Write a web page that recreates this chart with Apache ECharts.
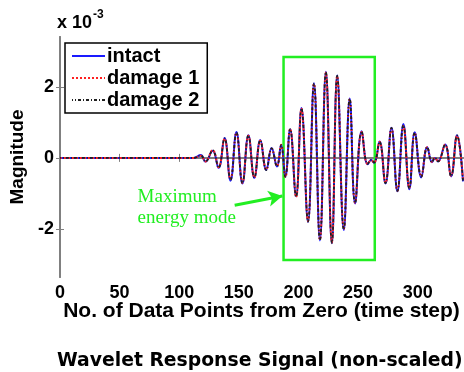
<!DOCTYPE html>
<html>
<head>
<meta charset="utf-8">
<script src="https://cdn.jsdelivr.net/npm/echarts@6/dist/echarts.min.js"></script>
<style>
    html, body { margin: 0; padding: 0; background: #fff; }
    #chart { width: 464px; height: 372px; }
</style>
</head>
<body>
<div id="chart"></div>
<script>
// time steps (x) and magnitudes (x 10^-3)
const timeSteps = [0, 112, 118, 122, 128, 133, 138, 143, 148, 153,
    158, 163, 168, 173, 177.5, 182, 185.5, 189, 193, 198,
    202.5, 208, 213, 218, 223, 228, 232.5, 238, 243, 247.5,
    253, 258, 261, 263.5, 268, 273, 278, 283, 288, 293,
    297.5, 303, 308, 312, 314.5, 317, 323, 328, 333, 338];
const intact = [0, 0, 0.08, -0.1, 0.2, -0.28, 0.56, -0.64, 0.73, -0.72,
    0.64, -0.56, 0.5, -0.34, 0.28, -0.24, 0.36, -0.52, 0.8, -1.08,
    1.4, -1.8, 2.1, -2.32, 2.42, -2.4, 2.32, -2.03, 1.67, -1.28,
    0.75, -0.18, -0.06, -0.14, 0.46, -0.72, 0.85, -0.94, 0.95, -0.88,
    0.72, -0.55, 0.3, -0.12, 0.0, -0.1, 0.38, -0.52, 0.64, -0.66];
const damage1 = [0, 0, 0.06, -0.1, 0.22, -0.26, 0.54, -0.6, 0.7, -0.7,
    0.62, -0.55, 0.48, -0.33, 0.26, -0.23, 0.37, -0.54, 0.82, -1.1,
    1.38, -1.78, 2.08, -2.3, 2.4, -2.38, 2.3, -2.0, 1.65, -1.26,
    0.73, -0.17, -0.07, -0.13, 0.45, -0.7, 0.83, -0.92, 0.9, -0.84,
    0.7, -0.52, 0.3, -0.11, 0.0, -0.1, 0.37, -0.5, 0.62, -0.64];
const damage2 = [0, 0, 0.07, -0.1, 0.21, -0.27, 0.55, -0.62, 0.71, -0.71,
    0.63, -0.55, 0.49, -0.34, 0.27, -0.24, 0.36, -0.53, 0.81, -1.09,
    1.39, -1.79, 2.09, -2.31, 2.41, -2.39, 2.31, -2.01, 1.66, -1.27,
    0.74, -0.17, -0.06, -0.13, 0.45, -0.71, 0.84, -0.93, 0.92, -0.86,
    0.71, -0.53, 0.3, -0.12, 0.0, -0.1, 0.37, -0.51, 0.63, -0.65];

const xTicks = [0, 50, 100, 150, 200, 250, 300];
const yTicks = [-2, 0, 2];

// green annotation: box corners, arrow ends, label
const modeBox = [[187.5, 2.84], [264, -2.87]];
const modeArrow = [[146.5, -1.33], [186.5, -1.07]];
const modeLabel = [107, -1.4];

const pairs = vals => timeSteps.map((t, i) => [t, vals[i]]);

const font = "Liberation Sans, Arial, sans-serif";
const axisGray = "#808080";

const chart = echarts.init(document.getElementById("chart"));

const bottomAxis = {
    type: "value",
    min: 0,
    max: 338,
    axisLine: { show: true, lineStyle: { color: axisGray, width: 2 } },
    axisTick: { inside: true, length: 4, customValues: xTicks, lineStyle: { color: axisGray } },
    axisLabel: {
        customValues: xTicks,
        color: "#000",
        fontFamily: font,
        fontWeight: "bold",
        fontSize: 18,
        margin: 7
    },
    splitLine: { show: false },
    name: "No. of Data Points from Zero (time step)",
    nameLocation: "middle",
    nameGap: 24,
    nameMoveOverlap: false,
    nameTextStyle: { color: "#000", fontFamily: font, fontWeight: "bold", fontSize: 21 }
};

const leftAxis = {
    type: "value",
    min: -3.35,
    max: 3.4,
    axisLine: { show: true, lineStyle: { color: axisGray, width: 2 } },
    axisTick: { show: true, inside: true, length: 4, customValues: yTicks, lineStyle: { color: axisGray } },
    axisLabel: {
        customValues: yTicks,
        color: "#000",
        fontFamily: font,
        fontWeight: "bold",
        fontSize: 18,
        margin: 6
    },
    splitLine: { show: false },
    name: "Magnitude",
    nameLocation: "middle",
    nameGap: 33,
    nameMoveOverlap: false,
    nameTextStyle: { color: "#000", fontFamily: font, fontWeight: "bold", fontSize: 19 }
};

const option = {
    backgroundColor: "#fff",
    animation: false,
    title: {
        text: "Wavelet Response Signal (non-scaled)",
        left: 57,
        top: 352,
        padding: 0,
        textStyle: { fontFamily: "DejaVu Sans", fontWeight: "bold", fontSize: 18.8, color: "#000" }
    },
    graphic: [
        {
            type: "text",
            left: 57,
            top: 9,
            style: {
                text: "{b|x 10}{s|-3}",
                rich: {
                    b: { fontFamily: font, fontWeight: "bold", fontSize: 18, fill: "#000", padding: [10, 0, 0, 0] },
                    s: { fontFamily: font, fontWeight: "bold", fontSize: 12, fill: "#000", padding: [0, 0, 6, 1] }
                }
            }
        }
    ],
    legend: {
        orient: "vertical",
        left: 65,
        top: 43,
        padding: [3, 8, 3, 6],
        itemGap: 2,
        itemWidth: 33,
        itemHeight: 12,
        borderColor: "#000",
        borderWidth: 1.5,
        borderRadius: 0,
        backgroundColor: "#fff",
        itemStyle: { opacity: 0 },
        textStyle: { color: "#000", fontFamily: font, fontWeight: "bold", fontSize: 20, padding: [0, 0, 0, -3] },
        data: ["intact", "damage 1", "damage 2"]
    },
    grid: { left: 57, top: 37, width: 406, height: 240 },
    xAxis: [
        bottomAxis,
        {
            type: "value",
            position: "top",
            min: 0,
            max: 338,
            axisLine: { show: true, lineStyle: { color: axisGray, width: 2 } },
            axisTick: { inside: true, length: 4, customValues: xTicks, lineStyle: { color: axisGray } },
            axisLabel: { show: false },
            splitLine: { show: false }
        }
    ],
    yAxis: [
        leftAxis,
        {
            type: "value",
            position: "right",
            min: -3.35,
            max: 3.4,
            axisLine: { show: true, lineStyle: { color: axisGray, width: 2 } },
            axisTick: { show: true, inside: true, length: 4, customValues: yTicks, lineStyle: { color: axisGray } },
            axisLabel: { show: false },
            splitLine: { show: false }
        }
    ],
    series: [
        {
            name: "intact",
            type: "line",
            data: pairs(intact),
            smooth: 0.45,
            symbol: "none",
            lineStyle: { color: "#1a1aff", width: 2 },
            itemStyle: { color: "#1a1aff" },
            markArea: {
                silent: true,
                itemStyle: { color: "rgba(0,0,0,0)", borderColor: "#22ee22", borderWidth: 2.5 },
                data: [[{ coord: modeBox[0] }, { coord: modeBox[1] }]]
            },
            markLine: {
                silent: true,
                symbol: ["none", "arrow"],
                symbolSize: [12, 14],
                label: { show: false },
                lineStyle: { color: "#22ee22", width: 3, type: "solid" },
                data: [[{ coord: modeArrow[0] }, { coord: modeArrow[1] }]]
            },
            markPoint: {
                silent: true,
                symbol: "circle",
                symbolSize: 0,
                label: {
                    show: true,
                    formatter: "Maximum\nenergy mode",
                    color: "#22ee22",
                    fontFamily: "Liberation Serif, Times New Roman, serif",
                    fontSize: 19,
                    lineHeight: 21,
                    align: "left",
                    position: "inside",
                    offset: [-50, 0]
                },
                data: [{ coord: modeLabel }]
            }
        },
        {
            name: "damage 1",
            type: "line",
            data: pairs(damage1),
            smooth: 0.45,
            symbol: "none",
            lineStyle: { color: "#ff2020", width: 2, type: [2, 2] },
            itemStyle: { color: "#ff2020" }
        },
        {
            name: "damage 2",
            type: "line",
            data: pairs(damage2),
            smooth: 0.45,
            symbol: "none",
            lineStyle: { color: "#202020", width: 1.8, type: [3, 2, 1, 2], dashOffset: 2 },
            itemStyle: { color: "#202020" }
        }
    ]
};

chart.setOption(option);
</script>
</body>
</html>
